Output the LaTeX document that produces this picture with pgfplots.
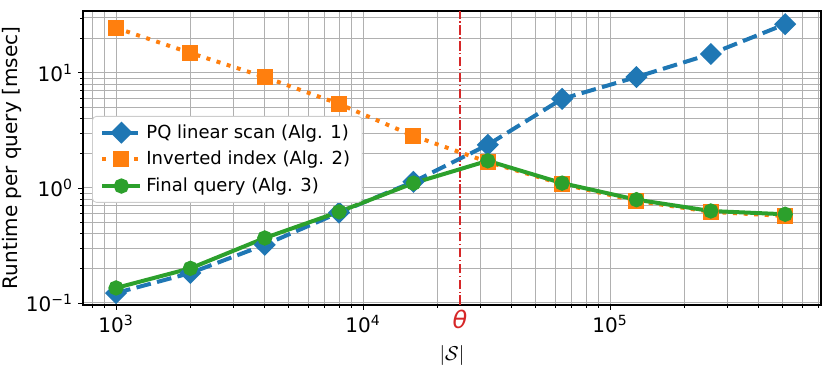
\documentclass[border=0pt]{standalone}
\usepackage{fontspec}
\setmainfont{DejaVu Sans}
\usepackage{pgfplots}
\pgfplotsset{compat=1.18}
\definecolor{tabblue}{HTML}{1F77B4}
\definecolor{taborange}{HTML}{FF7F0E}
\definecolor{tabgreen}{HTML}{2CA02C}
\definecolor{tabred}{HTML}{D62728}
\definecolor{gridgray}{HTML}{B0B0B0}
\definecolor{legendgray}{HTML}{CCCCCC}
\begin{document}
\begin{tikzpicture}
\begin{loglogaxis}[
  name=ax,
  scale only axis,
  width=369pt, height=147pt,
  xmin=735, xmax=715000,
  ymin=0.096, ymax=34.5,
  xtick={1000,10000,100000},
  xticklabels={10\textsuperscript{3},10\textsuperscript{4},10\textsuperscript{5}},
  minor xtick={800,900,2000,3000,4000,5000,6000,7000,8000,9000,20000,30000,40000,50000,60000,70000,80000,90000,200000,300000,400000,500000,600000,700000},
  ytick={0.1,1,10},
  yticklabels={10\textsuperscript{−1},10\textsuperscript{0},10\textsuperscript{1}},
  minor ytick={0.2,0.3,0.4,0.5,0.6,0.7,0.8,0.9,2,3,4,5,6,7,8,9,20,30},
  grid=both,
  major grid style={gridgray, line width=0.5pt},
  minor grid style={gridgray, line width=0.5pt},
  tick align=outside, tick pos=left,
  major tick length=2.5pt, minor tick length=1.5pt,
  tick style={black, line width=0.4pt},
  axis line style={line width=0.7pt},
  tick label style={font=\fontsize{10}{12}\selectfont},
  xticklabel style={yshift=1pt},
  yticklabel style={xshift=1pt},
  xlabel={$|\mathcal{S}|$},
  ylabel={Runtime per query [msec]},
  label style={font=\fontsize{10}{12}\selectfont},
  xlabel style={yshift=3pt},
  ylabel style={yshift=-5pt},
  extra x ticks={24700},
  extra x tick labels={\textit{θ}},
  extra x tick style={grid=major, major grid style={tabred, line width=0.75pt, dash pattern=on 4.8pt off 1.2pt on 0.75pt off 1.2pt}, major tick length=0pt, tick label style={text=tabred, font=\fontsize{12}{14}\selectfont}},
  legend style={at={(0.0122,0.643)}, anchor=north west, draw=legendgray, fill=white, rounded corners=2pt, font=\fontsize{9}{11}\selectfont, row sep=1pt, inner xsep=4pt, inner ysep=2pt},
  legend cell align=left,
  legend image code/.code={\draw[mark repeat=2,mark phase=2,#1] plot coordinates {(0pt,0pt) (9.5pt,0pt) (19pt,0pt)};},
]
\addplot[tabblue, line width=2pt, dash pattern=on 7.4pt off 3.2pt, mark=square*, mark size=2.9pt, mark options={solid, rotate=45}] coordinates {
  (1000,0.122) (2000,0.182) (4000,0.32) (8000,0.61) (16000,1.13)
  (32000,2.37) (64000,5.94) (128000,9.2) (256000,14.6) (512000,26.5)
};
\addlegendentry{PQ linear scan (Alg. 1)}
\addplot[taborange, line width=2pt, dash pattern=on 2pt off 3.3pt, mark=square*, mark size=3pt, mark options={solid}] coordinates {
  (1000,24.6) (2000,14.9) (4000,9.2) (8000,5.37) (16000,2.83)
  (32000,1.68) (64000,1.08) (128000,0.77) (256000,0.62) (512000,0.57)
};
\addlegendentry{Inverted index (Alg. 2)}
\addplot[tabgreen, line width=2pt, mark=*, mark size=2.8pt] coordinates {
  (1000,0.135) (2000,0.20) (4000,0.367) (8000,0.62) (16000,1.10)
  (32000,1.72) (64000,1.10) (128000,0.79) (256000,0.63) (512000,0.59)
};
\addlegendentry{Final query (Alg. 3)}
\end{loglogaxis}
\pgfresetboundingbox
\useasboundingbox ([xshift=-41.5pt,yshift=-32pt]ax.south west) rectangle ([xshift=4.5pt,yshift=5.5pt]ax.north east);
\end{tikzpicture}
\end{document}
